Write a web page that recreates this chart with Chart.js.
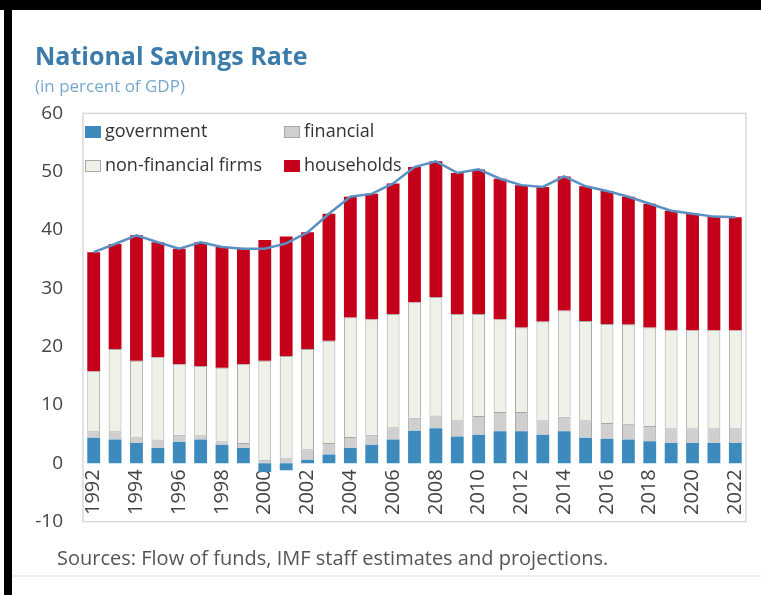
<!DOCTYPE html>
<html>
<head>
<meta charset="utf-8">
<script src="https://cdn.jsdelivr.net/npm/chart.js@4.4.1/dist/chart.umd.min.js"></script>
<style>
  body { margin: 0; background: #fff; font-family: "Open Sans", sans-serif; }
  #page { position: relative; width: 761px; height: 595px; overflow: hidden; background: #fff; }
  #topbar { position: absolute; left: 0; top: 0; width: 761px; height: 10px; background: #000; }
  #leftbar { position: absolute; left: 4px; top: 0; width: 8px; height: 595px; background: #000; }
  #wrap { position: absolute; left: 25px; top: 10px; width: 736px; height: 543px; }
  #legend { position: absolute; left: 85px; top: 119px; font-size: 18px; color: #333; }
  .item { position: absolute; white-space: nowrap; line-height: 22px; }
  .box { display: inline-block; width: 16px; height: 12px; margin-right: 4px; box-sizing: border-box; vertical-align: -1px; }
  #source { position: absolute; left: 57px; top: 544px; font-size: 20px; color: #555; white-space: nowrap; }
  #rule { position: absolute; left: 12px; top: 575px; width: 749px; height: 2px; background: #eee; }
</style>
</head>
<body>
<div id="page">
  <div id="wrap"><canvas id="myChart"></canvas></div>
  <div id="legend">
    <div class="item" style="left:0;top:0"><span class="box" style="background:#3d8abd"></span>government</div>
    <div class="item" style="left:199px;top:0"><span class="box" style="background:#cfcfcf;border:1px solid #a8a8a8"></span>financial</div>
    <div class="item" style="left:0;top:34px"><span class="box" style="background:#edf1e8;border:1px solid #a8a8a8"></span>non-financial firms</div>
    <div class="item" style="left:199px;top:34px"><span class="box" style="background:#c4001a"></span>households</div>
  </div>
  <div id="source">Sources: Flow of funds, IMF staff estimates and projections.</div>
  <div id="rule"></div>
  <div id="topbar"></div>
  <div id="leftbar"></div>
</div>
<script>
// Años y componentes del ahorro nacional (% del PIB)
const years = ['1992','1993','1994','1995','1996','1997','1998','1999','2000','2001',
  '2002','2003','2004','2005','2006','2007','2008','2009','2010','2011',
  '2012','2013','2014','2015','2016','2017','2018','2019','2020','2021','2022'];

const government = [4.4, 4.1, 3.5, 2.6, 3.7, 4.1, 3.2, 2.6, -1.5, -1.2,
  0.6, 1.5, 2.6, 3.2, 4.1, 5.6, 6.0, 4.6, 4.9, 5.5,
  5.5, 4.9, 5.5, 4.4, 4.2, 4.1, 3.8, 3.5, 3.5, 3.5, 3.5];

const financial = [1.1, 1.4, 1.1, 1.5, 1.2, 0.7, 0.6, 0.9, 0.6, 1.0,
  1.8, 2.0, 1.9, 1.7, 2.1, 2.2, 2.2, 2.9, 3.2, 3.3,
  3.3, 2.5, 2.5, 3.0, 2.7, 2.7, 2.6, 2.5, 2.5, 2.5, 2.5];

const nonFinancial = [10.3, 14.1, 13.0, 14.1, 12.1, 11.9, 12.6, 13.5, 17.0, 17.4,
  17.2, 17.5, 20.5, 19.8, 19.4, 19.8, 20.3, 18.1, 17.5, 15.9,
  14.5, 16.9, 18.2, 17.0, 17.0, 17.0, 16.9, 16.8, 16.8, 16.8, 16.8];

const households = [20.4, 18.0, 21.5, 19.7, 19.8, 21.2, 20.7, 19.8, 20.7, 20.5,
  20.0, 21.8, 20.7, 21.5, 22.4, 23.2, 23.3, 24.2, 24.8, 24.1,
  24.4, 23.1, 23.0, 23.1, 22.8, 21.9, 21.2, 20.5, 20.0, 19.5, 19.4];

const yTicks = [-10, 0, 10, 20, 30, 40, 50, 60];

// Total nacional = suma de los cuatro sectores
const total = years.map((y, i) =>
  +(government[i] + financial[i] + nonFinancial[i] + households[i]).toFixed(1));

// Marco gris alrededor del área de la gráfica
const frame = {
  id: 'frame',
  beforeDatasetsDraw(chart) {
    const { ctx, chartArea: a } = chart;
    ctx.save();
    ctx.strokeStyle = '#d9d9d9';
    ctx.lineWidth = 1.5;
    ctx.strokeRect(a.left, a.top, a.right - a.left, a.bottom - a.top);
    ctx.restore();
  }
};

const ctx = document.getElementById('myChart').getContext('2d');

const myChart = new Chart(ctx, {
  data: {
    labels: years,
    datasets: [
      { type: 'line', label: 'total', data: total, borderColor: '#5a91c2', borderWidth: 2.5,
        pointRadius: 0, tension: 0, stack: 'total', order: 0 },
      { type: 'bar', label: 'government', data: government, backgroundColor: '#3d8abd',
        borderWidth: 0, stack: 's', order: 1 },
      { type: 'bar', label: 'financial', data: financial, backgroundColor: '#cfcfcf',
        borderColor: '#a8a8a8', borderWidth: 1, stack: 's', order: 1 },
      { type: 'bar', label: 'non-financial firms', data: nonFinancial, backgroundColor: '#edf1e8',
        borderColor: '#a8a8a8', borderWidth: 1, stack: 's', order: 1 },
      { type: 'bar', label: 'households', data: households, backgroundColor: '#c4001a',
        borderWidth: 0, stack: 's', order: 1 }
    ]
  },
  options: {
    responsive: true,
    maintainAspectRatio: false,
    animation: false,
    layout: { padding: { left: 10, right: 15, top: 0, bottom: 10 } },
    datasets: { bar: { categoryPercentage: 1, barPercentage: 0.6 } },
    plugins: {
      legend: { display: false },
      tooltip: { enabled: false },
      title: {
        display: true, text: 'National Savings Rate', align: 'start', color: '#3b7cab',
        font: { family: 'Open Sans', size: 25, weight: 'bold' }, padding: { top: 33, bottom: 4 }
      },
      subtitle: {
        display: true, text: '(in percent of GDP)', align: 'start', color: '#78a9cd',
        font: { family: 'Open Sans', size: 17 }, padding: { top: 0, bottom: 16 }
      }
    },
    scales: {
      x: {
        stacked: true,
        position: { y: 0 },
        grid: { display: false, drawTicks: false },
        border: { display: false },
        ticks: {
          autoSkip: false, minRotation: 90, maxRotation: 90, padding: 6,
          color: '#444', font: { family: 'Open Sans', size: 20 },
          callback: (v, i) => (i % 2 === 0 ? years[i] : '')
        },
        afterFit: s => { s.paddingLeft = 0; s.paddingRight = 0; s.paddingTop = 0; s.paddingBottom = 0; }
      },
      y: {
        stacked: true,
        min: -10, max: 60,
        afterBuildTicks: axis => { axis.ticks = yTicks.map(v => ({ value: v })); },
        grid: { display: false, drawTicks: false },
        border: { display: false },
        ticks: { padding: 20, color: '#444', font: { family: 'Open Sans', size: 19 } },
        afterFit: s => { s.width = 48; }
      }
    }
  },
  plugins: [frame]
});
</script>
</body>
</html>
